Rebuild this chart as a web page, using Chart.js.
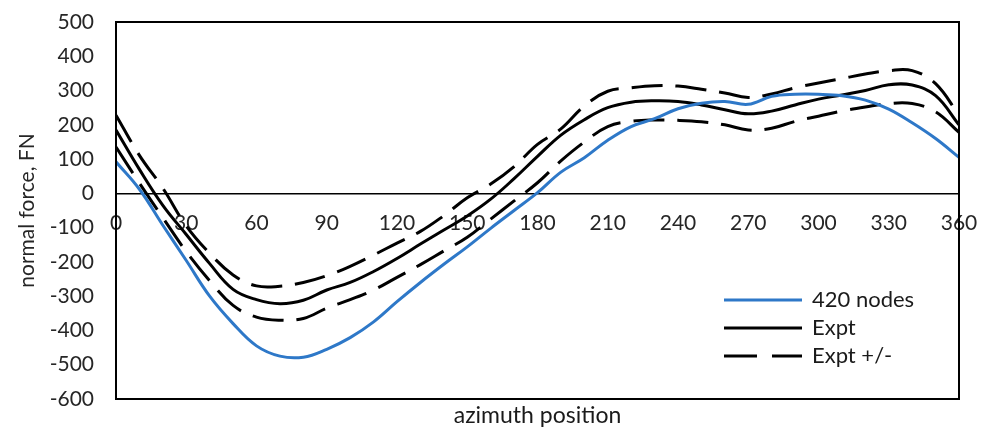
<!DOCTYPE html>
<html>
<head>
<meta charset="utf-8">
<script src="https://cdn.jsdelivr.net/npm/chart.js@4.4.0/dist/chart.umd.min.js"></script>
<style>
html, body { margin: 0; padding: 0; background: #fff; }
</style>
</head>
<body>
<canvas id="chartForce" width="988" height="429"></canvas>
<script>
// azimuth position, degrees
const azimuth = [0, 10, 20, 30, 40, 50, 60, 70, 80, 90, 100, 110, 120, 130, 140, 150, 160, 170, 180,
    190, 200, 210, 220, 230, 240, 250, 260, 270, 280, 290, 300, 310, 320, 330, 340, 350, 360];

// normal force, FN
const nodes420 = [92, 12, -93, -196, -300, -380, -445, -475, -478, -455, -421, -375, -316, -260, -207, -156, -102, -50, 2,
    62, 104, 155, 195, 218, 247, 263, 268, 260, 283, 289, 289, 285, 272, 246, 206, 160, 105];
const expt = [185, 70, -35, -120, -205, -280, -310, -322, -312, -282, -260, -228, -190, -148, -107, -66, -17, 43, 108,
    170, 215, 250, 266, 270, 268, 258, 244, 232, 240, 258, 275, 287, 300, 317, 316, 285, 200];
const exptUpper = [228, 111, 15, -95, -175, -238, -270, -271, -260, -240, -213, -180, -145, -111, -65, -13, 27, 78, 143,
    188, 255, 298, 308, 314, 313, 304, 293, 280, 290, 308, 322, 335, 348, 358, 358, 320, 228];
const exptLower = [135, 30, -71, -170, -255, -327, -361, -370, -365, -335, -310, -282, -245, -208, -168, -128, -75, -22, 31,
    95, 150, 195, 210, 214, 213, 209, 200, 185, 190, 210, 225, 240, 252, 262, 262, 238, 178];

const legendItems = [
    { text: '420 nodes', color: '#2E78C8', dash: [] },
    { text: 'Expt', color: '#000000', dash: [] },
    { text: 'Expt +/-', color: '#000000', dash: [33, 15] }
];

const FONT = 'Lato';
const DASH = [31, 13];

function toPoints(values) {
    return azimuth.map((a, i) => ({ x: a, y: values[i] }));
}

function noPadding(scale) {
    scale.paddingTop = 0;
    scale.paddingBottom = 0;
    scale.paddingLeft = 0;
    scale.paddingRight = 0;
}

// frame, legend and x title drawn on top
const framePlugin = {
    id: 'framePlugin',
    afterDraw(chart) {
        const ctx = chart.ctx;
        const area = chart.chartArea;
        ctx.save();
        ctx.strokeStyle = '#000';
        ctx.lineWidth = 2;
        ctx.strokeRect(area.left, area.top, area.right - area.left, area.bottom - area.top);

        ctx.font = '22px ' + FONT;
        ctx.textBaseline = 'middle';
        ctx.textAlign = 'left';
        legendItems.forEach((item, i) => {
            const y = 300 + i * 28;
            ctx.beginPath();
            ctx.setLineDash(item.dash);
            ctx.strokeStyle = item.color;
            ctx.lineWidth = 3;
            ctx.moveTo(724, y);
            ctx.lineTo(802, y);
            ctx.stroke();
            ctx.setLineDash([]);
            ctx.fillStyle = '#1a1a1a';
            ctx.fillText(item.text, 812, y);
        });

        ctx.font = '23px ' + FONT;
        ctx.textAlign = 'center';
        ctx.fillText('azimuth position', (area.left + area.right) / 2, 416);
        ctx.restore();
    }
};

const data = {
    datasets: [
        {
            label: '420 nodes',
            data: toPoints(nodes420),
            borderColor: '#2E78C8',
            borderWidth: 3
        },
        {
            label: 'Expt',
            data: toPoints(expt),
            borderColor: '#000',
            borderWidth: 3
        },
        {
            label: 'Expt +/-',
            data: toPoints(exptUpper),
            borderColor: '#000',
            borderWidth: 3,
            borderDash: DASH
        },
        {
            label: 'Expt +/- lower',
            data: toPoints(exptLower),
            borderColor: '#000',
            borderWidth: 3,
            borderDash: DASH
        }
    ]
};

const config = {
    type: 'line',
    data: data,
    options: {
        responsive: false,
        animation: false,
        layout: { padding: { left: 0, right: 29, top: 22, bottom: 30 } },
        elements: {
            point: { radius: 0 },
            line: { tension: 0.4 }
        },
        plugins: {
            legend: { display: false },
            tooltip: { enabled: false }
        },
        scales: {
            x: {
                type: 'linear',
                position: { y: 0 },
                min: 0,
                max: 360,
                grid: { display: false, drawTicks: false },
                border: { display: true, color: '#000', width: 1.5 },
                ticks: {
                    stepSize: 30,
                    padding: 17,
                    maxRotation: 0,
                    color: '#262626',
                    font: { family: FONT, size: 21 }
                },
                afterFit(scale) { scale.height = 0; noPadding(scale); }
            },
            y: {
                min: -600,
                max: 500,
                grid: { display: false, drawTicks: false },
                border: { display: true, color: '#000', width: 2 },
                ticks: {
                    stepSize: 100,
                    padding: 22,
                    color: '#262626',
                    font: { family: FONT, size: 21 }
                },
                title: {
                    display: true,
                    text: 'normal force, FN',
                    color: '#262626',
                    font: { family: FONT, size: 21 },
                    padding: { top: 15, bottom: 0 }
                },
                afterFit(scale) { scale.width = 116; noPadding(scale); }
            }
        }
    },
    plugins: [framePlugin]
};

new Chart(document.getElementById('chartForce'), config);
</script>
</body>
</html>
